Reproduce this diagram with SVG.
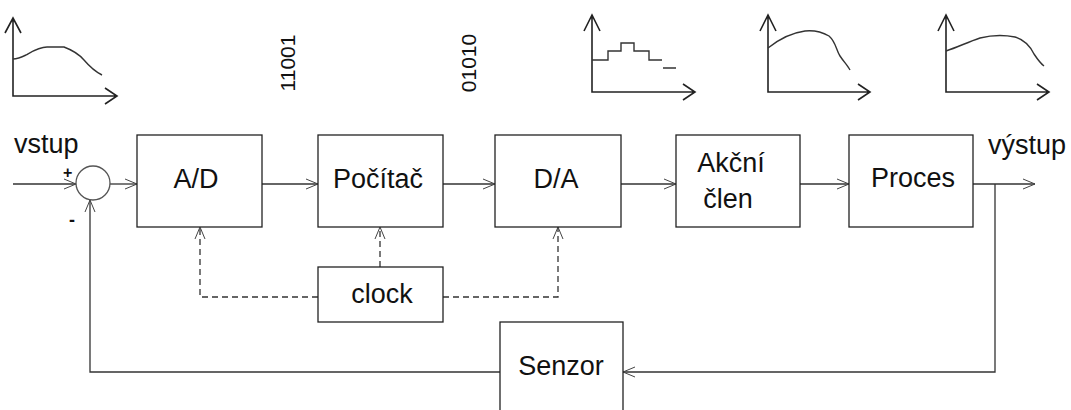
<svg xmlns="http://www.w3.org/2000/svg" width="1071" height="410" viewBox="0 0 1071 410">
<defs>
<marker id="arr" markerWidth="14" markerHeight="14" refX="12" refY="6" orient="auto" markerUnits="userSpaceOnUse">
<path d="M0,1 L12,6 L0,11" fill="none" stroke="#444" stroke-width="1"/>
</marker>
<style>
.box{fill:#fff;stroke:#222;stroke-width:1.3}
.ln{fill:none;stroke:#333;stroke-width:1.3}
.dash{fill:none;stroke:#333;stroke-width:1.3;stroke-dasharray:6,4}
.ax{fill:none;stroke:#222;stroke-width:1.6}
.cv{fill:none;stroke:#333;stroke-width:1.4}
.t{font-family:"Liberation Sans",Arial,sans-serif;font-size:27px;fill:#111;text-anchor:middle}
.lbl{font-family:"Liberation Sans",Arial,sans-serif;font-size:27px;fill:#111}
.bits{font-family:"Liberation Sans",Arial,sans-serif;font-size:21px;fill:#111;text-anchor:middle}
</style>
</defs>
<rect width="1071" height="410" fill="#fff"/>

<g id="graphs">
<g id="graph1">
<path class="ax" d="M13,18 V96 H117 M5,33 L13,18 L21,33 M105,88 L117,96 L105,104"/>
<path class="cv" d="M13,59 C18,59 22,57 26,55 C33,51 39,47 47,47 L64,47 C72,50 78,53 84,60 C90,67 94,71 102,75"/>
</g>
<g id="graph4">
<path class="ax" d="M592,15 V92 H695 M584,31 L592,15 L600,31 M683,84 L695,92 L683,100"/>
<path class="cv" d="M592,60 H608 V51 H621 V43 H634 V51 H649 V60 H662 M663,68 H676"/>
</g>
<g id="graph5">
<path class="ax" d="M768,15 V92 H870 M760,31 L768,15 L776,31 M858,84 L870,92 L858,100"/>
<path class="cv" d="M768,48 C778,40 790,33 805,31 C815,30 822,32 829,36 C836,42 836,50 840,56 C844,62 848,66 850,70"/>
</g>
<g id="graph6">
<path class="ax" d="M946,15 V92 H1049 M938,31 L946,15 L954,31 M1037,84 L1049,92 L1037,100"/>
<path class="cv" d="M946,51 C958,47 968,42 980,38 C992,35 1005,35 1015,37 C1025,40 1030,46 1034,54 C1038,60 1040,63 1044,66"/>
</g>
<text class="bits" transform="translate(295,63) rotate(-90)">11001</text>
<text class="bits" transform="translate(476,63) rotate(-90)">01010</text>
</g>

<g id="connectors">
<line class="ln" x1="13" y1="184" x2="76" y2="184" marker-end="url(#arr)"/>
<line class="ln" x1="110" y1="184" x2="137" y2="184" marker-end="url(#arr)"/>
<line class="ln" x1="262" y1="184" x2="318" y2="184" marker-end="url(#arr)"/>
<line class="ln" x1="443" y1="184" x2="495" y2="184" marker-end="url(#arr)"/>
<line class="ln" x1="621" y1="184" x2="676" y2="184" marker-end="url(#arr)"/>
<line class="ln" x1="800" y1="184" x2="849" y2="184" marker-end="url(#arr)"/>
<line class="ln" x1="973" y1="184" x2="1035" y2="184" marker-end="url(#arr)"/>
<polyline class="ln" points="995,184 995,372 623,372" marker-end="url(#arr)"/>
<polyline class="ln" points="500,372 90,372 90,200" marker-end="url(#arr)"/>
<polyline class="dash" points="318,297 200,297 200,227" marker-end="url(#arr)"/>
<polyline class="dash" points="380,267 380,227" marker-end="url(#arr)"/>
<polyline class="dash" points="443,297 558,297 558,227" marker-end="url(#arr)"/>
</g>

<g id="sum">
<circle cx="93" cy="183" r="17" fill="#fff" stroke="#555" stroke-width="1.3"/>
<text class="lbl" x="63" y="178" style="font-size:16px;font-weight:bold">+</text>
<text class="lbl" x="69" y="226" style="font-size:18px;font-weight:bold">-</text>
</g>
<text class="lbl" x="14" y="153">vstup</text>
<text class="lbl" x="988" y="154">výstup</text>

<g id="ad"><rect class="box" x="137" y="135" width="125" height="92"/><text class="t" x="196" y="188">A/D</text></g>
<g id="pocitac"><rect class="box" x="318" y="135" width="125" height="92"/><text class="t" x="378" y="188">Počítač</text></g>
<g id="da"><rect class="box" x="495" y="135" width="126" height="92"/><text class="t" x="556" y="188">D/A</text></g>
<g id="akcni"><rect class="box" x="676" y="135" width="124" height="92"/><text class="t" x="731" y="172">Akční</text><text class="t" x="728" y="208">člen</text></g>
<g id="proces"><rect class="box" x="849" y="135" width="124" height="92"/><text class="t" x="913" y="187">Proces</text></g>
<g id="clock"><rect class="box" x="318" y="267" width="125" height="55"/><text class="t" x="382" y="303">clock</text></g>
<g id="senzor"><rect class="box" x="500" y="322" width="123" height="95"/><text class="t" x="561" y="375">Senzor</text></g>
</svg>
